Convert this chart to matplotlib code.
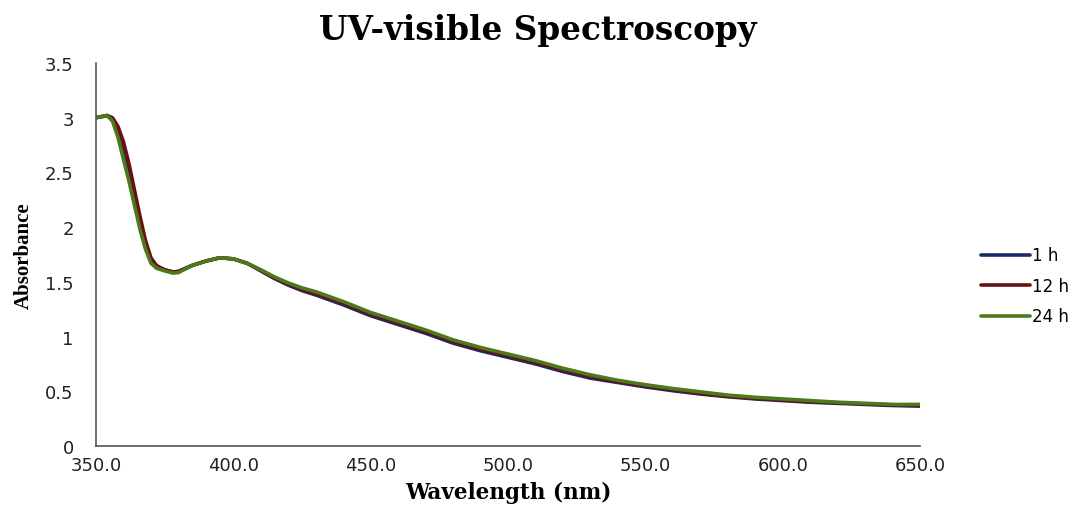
import matplotlib
matplotlib.use("Agg")
import matplotlib.pyplot as plt

wavelength = [350, 352, 354, 356, 358, 360, 362, 364, 366, 368, 370, 372, 375, 378, 380,
              385, 390, 395, 400, 405, 410, 415, 420, 425, 430, 440, 450, 460, 470, 480,
              490, 500, 510, 520, 530, 540, 550, 560, 570, 580, 590, 600, 610, 620, 630,
              640, 650]

abs_1h = [3.00, 3.01, 3.02, 2.99, 2.88, 2.72, 2.50, 2.27, 2.04, 1.84, 1.70, 1.64, 1.61, 1.59, 1.595,
          1.65, 1.69, 1.72, 1.71, 1.67, 1.60, 1.53, 1.47, 1.42, 1.38, 1.29, 1.19, 1.11, 1.03, 0.94,
          0.87, 0.81, 0.75, 0.68, 0.62, 0.58, 0.54, 0.505, 0.475, 0.45, 0.43, 0.415, 0.40, 0.39, 0.38,
          0.37, 0.365]

abs_12h = [3.00, 3.01, 3.02, 3.00, 2.92, 2.78, 2.58, 2.34, 2.10, 1.88, 1.72, 1.65, 1.61, 1.59, 1.595,
           1.65, 1.69, 1.72, 1.71, 1.67, 1.605, 1.535, 1.48, 1.43, 1.39, 1.305, 1.205, 1.125, 1.045, 0.955,
           0.885, 0.825, 0.765, 0.695, 0.635, 0.59, 0.55, 0.515, 0.48, 0.455, 0.435, 0.42, 0.405, 0.395, 0.385,
           0.375, 0.37]

abs_24h = [3.00, 3.01, 3.02, 2.97, 2.82, 2.62, 2.42, 2.20, 1.98, 1.80, 1.67, 1.625, 1.60, 1.58, 1.585,
           1.65, 1.69, 1.72, 1.71, 1.67, 1.61, 1.545, 1.49, 1.445, 1.41, 1.32, 1.22, 1.14, 1.06, 0.97,
           0.90, 0.84, 0.78, 0.71, 0.65, 0.60, 0.56, 0.525, 0.495, 0.465, 0.445, 0.43, 0.415, 0.40, 0.39,
           0.38, 0.38]

series_labels = ["1 h", "12 h", "24 h"]
series_colors = ["#1c2a66", "#6a1010", "#4a7a1c"]
x_ticks = [350, 400, 450, 500, 550, 600, 650]
y_ticks = [0, 0.5, 1, 1.5, 2, 2.5, 3, 3.5]
y_tick_labels = ["0", "0.5", "1", "1.5", "2", "2.5", "3", "3.5"]

fig = plt.figure(figsize=(10.75, 5.06), dpi=100)
ax = fig.add_axes([0.0893, 0.1166, 0.7667, 0.7569])

for vals, lab, col in zip([abs_1h, abs_12h, abs_24h], series_labels, series_colors):
    ax.plot(wavelength, vals, color=col, lw=2.6, label=lab, solid_capstyle="round")

ax.set_xlim(350, 650)
ax.set_ylim(0, 3.5)
ax.set_xticks(x_ticks)
ax.set_xticklabels([f"{t:.1f}" for t in x_ticks], fontsize=13, family="DejaVu Sans")
ax.set_yticks(y_ticks)
ax.set_yticklabels(y_tick_labels, fontsize=13, family="DejaVu Sans")
ax.tick_params(axis="x", length=0, pad=7, colors="#222222")
ax.tick_params(axis="y", length=0, pad=16, colors="#222222")
for s in ["top", "right"]:
    ax.spines[s].set_visible(False)
for s in ["left", "bottom"]:
    ax.spines[s].set_color("#555555")
    ax.spines[s].set_linewidth(1.2)

ax.set_xlabel("Wavelength (nm)", fontsize=15.5, family="DejaVu Serif", fontweight="bold", labelpad=5)
ax.set_ylabel("Absorbance", fontsize=15, family="Liberation Serif", fontweight="bold", labelpad=8)
fig.text(0.5, 0.94, "UV-visible Spectroscopy", ha="center", va="center", fontsize=23.5,
         family="DejaVu Serif", fontweight="bold")

leg = fig.legend(loc="center left", bbox_to_anchor=(0.913, 0.433), frameon=False,
                 handlelength=2.9, handletextpad=0.15, labelspacing=0.75,
                 borderpad=0, borderaxespad=0,
                 prop={"family": "DejaVu Sans", "size": 12})

fig.savefig("out.png", dpi=100)
